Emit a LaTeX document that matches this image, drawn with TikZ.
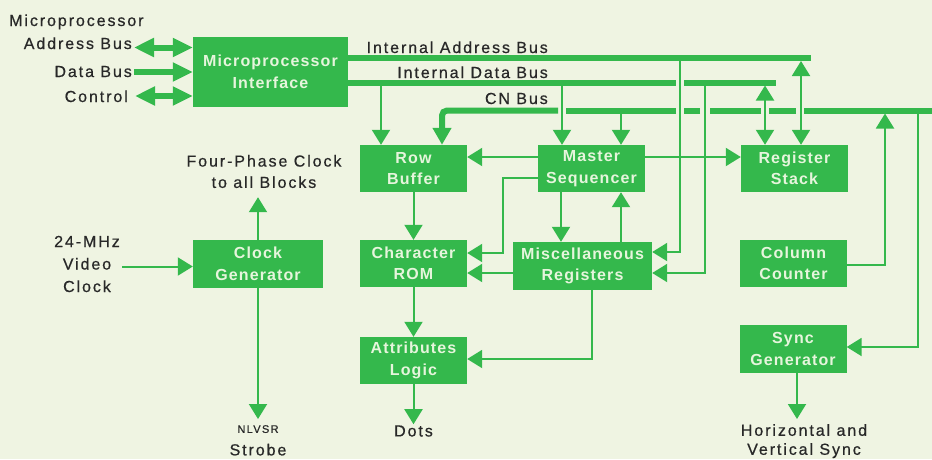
\documentclass[tikz,border=0pt]{standalone}
\usepackage{fontspec}
\setmainfont{Liberation Sans}
\newfontfamily\labf{Liberation Sans}[LetterSpace=12,FakeBold=0.6]
\newfontfamily\boxff{Liberation Sans}[LetterSpace=7]
\usetikzlibrary{arrows.meta}
\definecolor{bg}{RGB}{239,244,226}
\definecolor{gr}{RGB}{52,184,76}
\definecolor{tx}{RGB}{40,40,40}
\definecolor{wt}{RGB}{230,245,220}
\begin{document}
\begin{tikzpicture}[x=1pt,y=-1pt,
 >={Triangle[width=18pt,length=15pt]},
 blk/.style={fill=gr, text=wt, font=\boxff\bfseries\fontsize{16}{21.5}\selectfont, align=center, minimum width=107pt, minimum height=47pt, inner sep=0pt},
 lab/.style={text=tx, font=\labf\fontsize{16}{20.5}\selectfont, align=center, inner sep=1pt},
 conn/.style={draw=gr, line width=2pt, ->},
 conn2/.style={draw=gr, line width=2pt, <->},
 bus/.style={draw=gr, line width=6pt},
 busar/.style={draw=gr, line width=6pt, {Triangle[width=18pt,length=20pt]}-{Triangle[width=18pt,length=20pt]}},
 busr/.style={draw=gr, line width=6pt, -{Triangle[width=18pt,length=20pt]}}
]
\fill[bg] (0,0) rectangle (932,459);
\useasboundingbox (0,0) rectangle (932,459);

% blocks
\node[blk, minimum width=155pt, minimum height=70pt] (mpi) at (270.5,72) {Microprocessor\\Interface};
\node[blk] (rowbuf) at (413.5,168.5) {Row\\Buffer};
\node[blk] (mseq) at (591.5,168.5) {Master\\Sequencer};
\node[blk] (regstk) at (794.5,168.5) {Register\\Stack};
\node[blk] (chrom) at (413.5,263.5) {Character\\ROM};
\node[blk, minimum width=139pt, minimum height=48pt] (misc) at (582.5,266) {Miscellaneous\\Registers};
\node[blk] (colcnt) at (793.5,263.5) {Column\\Counter};
\node[blk, minimum height=48pt] (syncg) at (793,349) {Sync\\Generator};
\node[blk, minimum width=130pt, minimum height=48pt] (clkg) at (258,264) {Clock\\Generator};
\node[blk] (attr) at (413.5,360.5) {Attributes\\Logic};

% labels
\node[lab, anchor=base west] (mptxt) at (8,26) {Microprocessor};
\node[lab, anchor=base east] (abus) at (133,49) {Address Bus};
\node[lab, anchor=base east] (dbus) at (133,77) {Data Bus};
\node[lab, anchor=base east] (cbus) at (129,102) {Control};
\node[lab, anchor=base east] (iab) at (549,53) {Internal Address Bus};
\node[lab, anchor=base east] (idb) at (549,78) {Internal Data Bus};
\node[lab, anchor=base east] (cnb) at (549,104) {CN Bus};
\node[lab, font=\labf\fontsize{16}{21.3}\selectfont] (fpc) at (264,171.5) {Four-Phase Clock\\to all Blocks};
\node[lab, font=\labf\fontsize{16}{22.5}\selectfont] (vclk) at (87,264) {24-MHz\\Video\\Clock};
\node[lab] (dots) at (413.5,431) {Dots};
\node[lab, anchor=north, inner ysep=6pt] (strobe) at (258,419) {{\labf\fontsize{11}{13}\selectfont NLVSR}\\[2pt]Strobe};
\node[lab, anchor=north, font=\labf\fontsize{16}{19}\selectfont, inner ysep=5pt] (hv) at (804,419) {Horizontal and\\Vertical Sync};

% external bus arrows
\coordinate (aL) at (134,47.5);
\coordinate (dL) at (134,72);
\coordinate (cL) at (135,96);
\draw[busar] (aL) -- (aL -| mpi.west);
\draw[busr] (dL) -- (dL -| mpi.west);
\draw[busar] (cL) -- (cL -| mpi.west);

% internal buses
\coordinate (abE) at (811,58);
\draw[bus] ([yshift=14pt]mpi.east) -- (abE);
\coordinate (dbE) at (776,82.5);
\draw[bus] ([yshift=-10.5pt]mpi.east) -- (676,82.5);
\draw[bus] (684,82.5) -- (dbE);
\coordinate (cnE) at (932,110.5);
\draw[bus] (cnE) -- (804,110.5);
\draw[bus] (796,110.5) -- (769,110.5);
\draw[bus] (761,110.5) -- (710,110.5);
\draw[bus] (700,110.5) -- (684,110.5);
\draw[bus] (676,110.5) -- (566,110.5);
\draw[bus, rounded corners=5pt, -{Triangle[width=18pt,length=17pt]}] (558,110.5) -| ([xshift=28.5pt]rowbuf.north);

% bus taps
\coordinate (t381) at (381,82.5);
\draw[conn] (t381) -- (t381 |- rowbuf.north);
\coordinate (t562) at (562,82.5);
\draw[conn] (t562) -- (t562 |- mseq.north);
\coordinate (t621) at (621,110.5);
\draw[conn] (t621) -- (t621 |- mseq.north);
\coordinate (t680) at (680,58);
\draw[conn] (t680) |- ([yshift=14pt]misc.east);
\coordinate (t705) at (705,82.5);
\draw[conn] (t705) |- ([yshift=-7pt]misc.east);
\coordinate (t765) at (765,85.5);
\draw[conn2] (t765) -- (t765 |- regstk.north);
\coordinate (t801) at (801,61);
\draw[conn2] (t801) -- (t801 |- regstk.north);
\coordinate (t885) at (885,113.5);
\draw[conn] ([yshift=-1.5pt]colcnt.east) -| (t885);
\coordinate (t918) at (918,110.5);
\draw[conn] (t918) |- ([yshift=2pt]syncg.east);

% block connectors
\draw[conn] ([yshift=11.5pt]mseq.west) -- ([yshift=11.5pt]rowbuf.east);
\draw[conn] ([yshift=11.5pt]mseq.east) -- ([yshift=11.5pt]regstk.west);
\coordinate (k1) at (503,215);
\draw[conn] ([yshift=-9.5pt]mseq.west) -| (k1) |- ([yshift=10.5pt]chrom.east);
\coordinate (m1) at ([xshift=-30.5pt]mseq.south);
\draw[conn] (m1) -- (m1 |- misc.north);
\coordinate (m2) at ([xshift=29.5pt]mseq.south);
\draw[conn] (m2 |- misc.north) -- (m2);
\coordinate (c3) at ([yshift=-7pt]misc.west);
\draw[conn] (c3) -- (c3 -| chrom.east);
\draw[conn] (rowbuf.south) -- (chrom.north);
\draw[conn] (chrom.south) -- (attr.north);
\draw[conn] ([xshift=9.5pt]misc.south) |- ([yshift=1.5pt]attr.east);
\draw[conn] (attr.south) -- (dots.north);

% clock
\coordinate (v0) at (122,266.5);
\draw[conn] (v0) -- (v0 -| clkg.west);
\draw[conn, shorten >=8pt] (clkg.north) -- (clkg.north |- fpc.south);
\draw[conn] (clkg.south) -- (strobe.north);
\coordinate (s0) at ([xshift=4pt]syncg.south);
\draw[conn] (s0) -- (s0 |- hv.north);
\end{tikzpicture}
\end{document}
